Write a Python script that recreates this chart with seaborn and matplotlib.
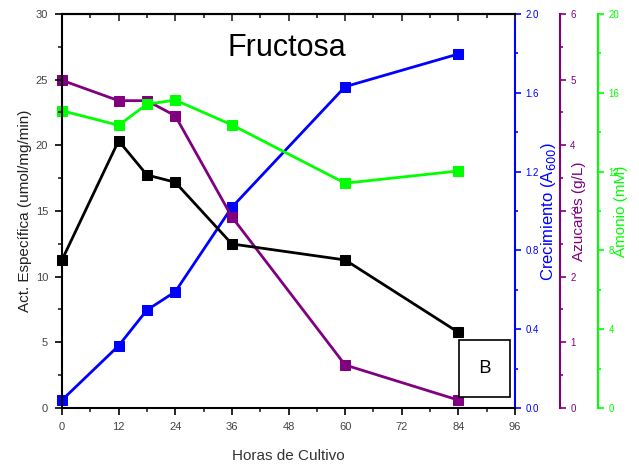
import matplotlib
matplotlib.use("Agg")
import matplotlib.pyplot as plt
import seaborn as sns
from matplotlib.ticker import MultipleLocator, FormatStrFormatter
from matplotlib.patches import Rectangle

hours = [0, 12, 18, 24, 36, 60, 84]
actividad = [11.27, 20.35, 17.74, 17.19, 12.49, 11.27, 5.76]
crecimiento = [0.04, 0.316, 0.497, 0.590, 1.019, 1.631, 1.797]
azucares = [4.99, 4.68, 4.68, 4.45, 2.91, 0.655, 0.12]
amonio = [15.09, 14.35, 15.42, 15.63, 14.37, 11.41, 12.03]

x_ticks = [0, 12, 24, 36, 48, 60, 72, 84, 96]

sns.set_style("ticks")
plt.rcParams['font.family'] = ['Liberation Sans', 'DejaVu Sans']

fig = plt.figure(figsize=(6.39, 4.66), dpi=100)
ax = fig.add_axes([0.097, 0.1245, 0.709, 0.8455])
ax2 = ax.twinx()
ax3 = ax.twinx()
ax4 = ax.twinx()

blue = "#0000FF"
purple = "#800080"
green = "#00FF00"

lw = 2.0
ms = 6.5
sns.lineplot(x=hours, y=amonio, ax=ax4, color=green, marker='s', markersize=ms,
             markeredgecolor=green, linewidth=lw, clip_on=False)
sns.lineplot(x=hours, y=azucares, ax=ax3, color=purple, marker='s', markersize=ms,
             markeredgecolor=purple, linewidth=lw, clip_on=False)
sns.lineplot(x=hours, y=crecimiento, ax=ax2, color=blue, marker='s', markersize=ms,
             markeredgecolor=blue, linewidth=lw, clip_on=False)
sns.lineplot(x=hours, y=actividad, ax=ax, color="black", marker='s', markersize=ms,
             markeredgecolor="black", linewidth=lw, clip_on=False)
ax.set_zorder(ax4.get_zorder() + 1)
ax.patch.set_visible(False)

ax.set_xlim(0, 96)
ax.set_ylim(0, 30)
ax.set_xticks(x_ticks)
ax.xaxis.set_minor_locator(MultipleLocator(6))
ax.yaxis.set_major_locator(MultipleLocator(5))
ax.yaxis.set_minor_locator(MultipleLocator(2.5))
ax.tick_params(axis='both', which='major', labelsize=8, length=5, width=1.2,
               direction='out', colors='black', pad=5)
ax.tick_params(axis='both', which='minor', length=3, width=1.2, direction='out')
ax.tick_params(axis='x', labelcolor='#444444')
ax.tick_params(axis='y', labelcolor='#444444')
ax.set_xlabel("Horas de Cultivo", fontsize=11, color='#333333', labelpad=12)
ax.set_ylabel("Act. Específica (umol/mg/min)", fontsize=11, color='#222222', labelpad=3)
for s in ['left', 'bottom', 'top']:
    ax.spines[s].set_linewidth(1.5)
    ax.spines[s].set_color('black')
ax.spines['right'].set_visible(False)

top = ax.secondary_xaxis('top')
top.set_xticks(x_ticks)
top.set_xticklabels([])
top.xaxis.set_minor_locator(MultipleLocator(6))
top.tick_params(which='major', direction='in', length=5, width=1.2)
top.tick_params(which='minor', direction='in', length=3, width=1.2)
top.spines['top'].set_linewidth(1.5)

def style_right(a, color, pos, lim, major, minor, label, labelpad, fs):
    a.set_ylim(*lim)
    a.spines['right'].set_position(('axes', pos))
    a.spines['right'].set_color(color)
    a.spines['right'].set_linewidth(1.5)
    for s in ['left', 'top', 'bottom']:
        a.spines[s].set_visible(False)
    a.yaxis.set_major_locator(MultipleLocator(major))
    a.yaxis.set_minor_locator(MultipleLocator(minor))
    a.tick_params(axis='y', which='major', colors=color, labelsize=7, length=4, width=1.2, direction='out')
    a.tick_params(axis='y', which='minor', colors=color, length=2.5, width=1.2, direction='out')
    a.set_ylabel(label, color=color, fontsize=fs, labelpad=labelpad)

style_right(ax2, blue, 1.0, (0, 2.0), 0.4, 0.2, "Crecimiento (A$_{600}$)", 0, 12)
ax2.yaxis.set_major_formatter(FormatStrFormatter('%.1f'))
style_right(ax3, purple, 1.099, (0, 6), 1, 0.5, "Azucares (g/L)", -3, 11)
style_right(ax4, green, 1.183, (0, 20), 4, 2, "Amonio (mM)", -4, 11)

ax.text(0.497, 0.914, "Fructosa", transform=ax.transAxes, ha='center', va='center',
        fontsize=22, color='black')

ax.add_patch(Rectangle((0.876, 0.028), 0.113, 0.145, transform=ax.transAxes,
                       fill=True, facecolor='white', edgecolor='black', linewidth=1.2,
                       zorder=5, clip_on=False))
ax.text(0.9325, 0.1005, "B", transform=ax.transAxes, ha='center', va='center',
        fontsize=14, color='black', zorder=6, family=['Open Sans', 'DejaVu Sans'])

fig.savefig("out.png", dpi=100)
